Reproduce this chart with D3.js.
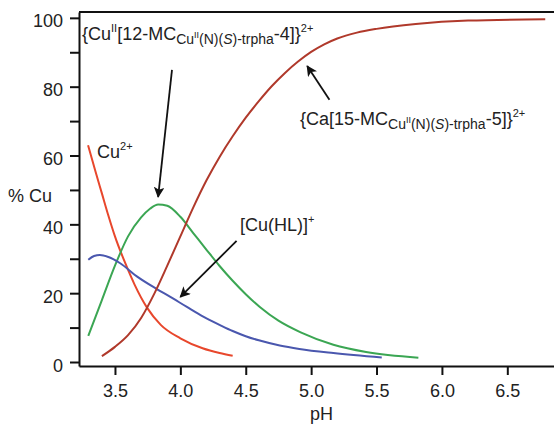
<!DOCTYPE html>
<html>
<head>
<meta charset="utf-8">
<script src="https://cdn.jsdelivr.net/npm/d3@7"></script>
<style>
  body { margin: 0; background: #fff; }
  svg { display: block; font-family: "Liberation Sans", Arial, sans-serif; }
</style>
</head>
<body>
<svg id="chart"></svg>
<script>
/////////////////////////////////////////////////
/////////////////// Data ////////////////////////
/////////////////////////////////////////////////

// species distribution (pH, % Cu)
var cuFreePH  = [3.294, 3.35, 3.40, 3.45, 3.50, 3.59, 3.65, 3.745, 3.85, 4.00, 4.17, 4.30, 4.40];
var cuFreeVal = [63, 55.5, 49, 42.5, 36.5, 27.7, 22.5, 15.8, 10.8, 6.9, 4.0, 2.6, 1.8];

var mc12PH  = [3.296, 3.40, 3.50, 3.60, 3.70, 3.77, 3.83, 3.90, 4.00, 4.10, 4.20, 4.30, 4.40, 4.50, 4.61, 4.75, 4.92, 5.17, 5.42, 5.82];
var mc12Val = [7.6, 18, 28, 36.5, 42, 44.6, 45.8, 45.4, 42.2, 37.4, 32.6, 27.9, 23.6, 19.7, 15.9, 12, 8.6, 5.0, 2.9, 1.25];

var cuHLPH  = [3.296, 3.34, 3.385, 3.45, 3.54, 3.67, 3.82, 3.92, 4.05, 4.175, 4.30, 4.40, 4.50, 4.60, 4.76, 4.91, 5.17, 5.54];
var cuHLVal = [29.7, 30.8, 31.1, 30.5, 28.7, 24.8, 21.2, 19, 16, 13.2, 10.8, 9.0, 7.5, 6.3, 4.8, 3.8, 2.6, 1.3];

var mc15PH  = [3.40, 3.50, 3.60, 3.70, 3.80, 3.90, 4.00, 4.10, 4.20, 4.30, 4.40, 4.50, 4.60, 4.70, 4.80, 4.90, 5.00, 5.10, 5.20, 5.35, 5.50, 5.80, 6.20, 6.79];
var mc15Val = [1.7, 4.4, 7.8, 12.8, 19.8, 28, 36.5, 45, 52.8, 59.6, 65.6, 71, 75.8, 80.2, 84, 87.3, 90.1, 92.3, 94, 95.7, 96.8, 98.2, 99.2, 99.6];

var seriesNames  = ["Cu2+", "12-MC", "CuHL", "15-MC"];
var seriesColors = ["#e8472c", "#3ba653", "#4a57ae", "#b0392b"];

var xTicks = [3.5, 4.0, 4.5, 5.0, 5.5, 6.0, 6.5];
var yTicks = [0, 20, 40, 60, 80, 100];
var yMinorTicks = [10, 30, 50, 70, 90];

/////////////////////////////////////////////////
/////////////////// Chart ///////////////////////
/////////////////////////////////////////////////

var svgWidth = 554, svgHeight = 426;
var plotL = 79, plotR = 554, plotT = 12, plotB = 366;

var svg = d3.select("#chart")
.attr("width", svgWidth)
.attr("height", svgHeight);

var x = d3.scaleLinear().domain([3.225, 6.857]).range([plotL, plotR]);
var y = d3.scaleLinear().domain([-1.16, 101.7]).range([plotB, plotT]);

var series = [
  {name: seriesNames[0], ph: cuFreePH, val: cuFreeVal, color: seriesColors[0]},
  {name: seriesNames[1], ph: mc12PH, val: mc12Val, color: seriesColors[1]},
  {name: seriesNames[2], ph: cuHLPH, val: cuHLVal, color: seriesColors[2]},
  {name: seriesNames[3], ph: mc15PH, val: mc15Val, color: seriesColors[3]}
];

var line = d3.line()
.x(function(d) { return x(d[0]); })
.y(function(d) { return y(d[1]); })
.curve(d3.curveMonotoneX);

svg.selectAll("path.curve")
.data(series)
.enter()
.append("path")
.attr("class", "curve")
.attr("d", function(s) { return line(d3.zip(s.ph, s.val)); })
.attr("fill", "none")
.attr("stroke", function(s) { return s.color; })
.attr("stroke-width", 2);

// axes
var yAxis = svg.append("g")
.attr("transform", "translate(" + plotL + ",0)")
.call(d3.axisLeft(y).tickValues(yTicks).tickSize(9).tickPadding(7).tickSizeOuter(0));

svg.append("g")
.attr("transform", "translate(" + plotL + ",0)")
.call(d3.axisLeft(y).tickValues(yMinorTicks).tickSize(9).tickFormat("").tickSizeOuter(0))
.select(".domain").remove();

var xAxis = svg.append("g")
.attr("transform", "translate(0," + plotB + ")")
.call(d3.axisBottom(x).tickValues(xTicks).tickFormat(d3.format(".1f")).tickSize(9).tickPadding(9).tickSizeOuter(0));

svg.selectAll(".tick text")
.style("font-size", "18px")
.style("font-family", "'Liberation Sans', Arial, sans-serif")
.attr("fill", "#222");
yAxis.selectAll(".tick text").attr("dy", "0.5em");
svg.selectAll(".domain, .tick line")
.attr("stroke", "#111")
.attr("stroke-width", 2);

// frame top
svg.append("line")
.attr("x1", plotL).attr("x2", plotR)
.attr("y1", plotT).attr("y2", plotT)
.attr("stroke", "#111").attr("stroke-width", 2);

// axis titles
svg.append("text")
.attr("x", 8).attr("y", 202)
.style("font-size", "18px").attr("fill", "#222")
.text("% Cu");

svg.append("text")
.attr("x", x(5.08)).attr("y", 420)
.attr("text-anchor", "middle")
.style("font-size", "18px").attr("fill", "#222")
.text("pH");

/////////////////////////////////////////////////
/////////////////// Labels //////////////////////
/////////////////////////////////////////////////

// mode: n normal, sup, sub, ss (superscript inside subscript)
var sizes = {n: 18, sup: 11, sub: 14, ss: 9};
var shifts = {n: 0, sup: -8, sub: 4, ss: -2};

function richLabel(px, py, parts) {
  var t = svg.append("text")
  .attr("x", px).attr("y", py)
  .attr("fill", "#222");
  var cur = 0;
  parts.forEach(function(p) {
    var m = p[1] || "n";
    t.append("tspan")
    .attr("dy", shifts[m] - cur)
    .style("font-size", sizes[m] + "px")
    .style("font-style", p[2] ? "italic" : "normal")
    .text(p[0]);
    cur = shifts[m];
  });
  return t;
}

var mcSub = [["Cu", "sub"], ["II", "ss"], ["(N)(", "sub"], ["S", "sub", true], [")-trpha", "sub"]];

richLabel(82, 40, [["{Cu"], ["II", "sup"], ["[12-MC"]].concat(mcSub, [["-4]}"], ["2+", "sup"]]));
richLabel(300, 125, [["{Ca[15-MC"]].concat(mcSub, [["-5]}"], ["2+", "sup"]]));
richLabel(97, 158, [["Cu"], ["2+", "sup"]]);
richLabel(240, 231, [["[Cu(HL)]"], ["+", "sup"]]);

// arrows
var arrows = [
  [3.936, 84.9, 3.83, 48],
  [4.43, 35.2, 4.0, 18.9],
  [5.14, 76.2, 4.97, 86]
];

svg.append("defs").append("marker")
.attr("id", "head")
.attr("viewBox", "0 0 10 10")
.attr("refX", 9).attr("refY", 5)
.attr("markerWidth", 6).attr("markerHeight", 6)
.attr("markerUnits", "strokeWidth")
.attr("orient", "auto")
.append("path")
.attr("d", "M0,0 L10,5 L0,10 L2.5,5 Z")
.attr("fill", "#111");

svg.selectAll("line.arrow")
.data(arrows)
.enter()
.append("line")
.attr("class", "arrow")
.attr("x1", function(d) { return x(d[0]); })
.attr("y1", function(d) { return y(d[1]); })
.attr("x2", function(d) { return x(d[2]); })
.attr("y2", function(d) { return y(d[3]); })
.attr("stroke", "#111")
.attr("stroke-width", 1.8)
.attr("marker-end", "url(#head)");
</script>
</body>
</html>
